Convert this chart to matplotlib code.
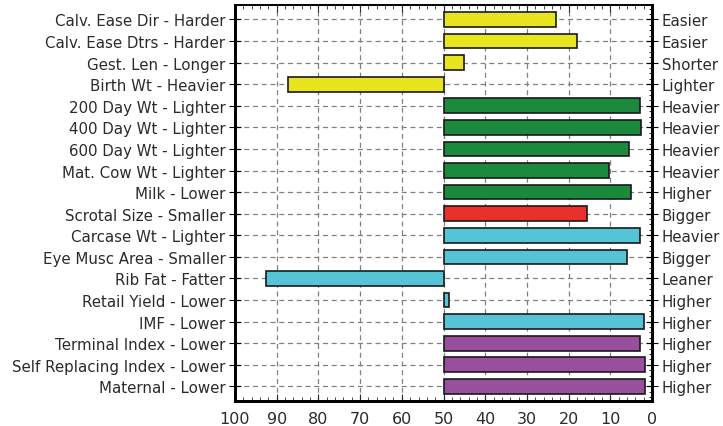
import matplotlib
matplotlib.use('Agg')
import matplotlib.pyplot as plt
from matplotlib.ticker import MultipleLocator, AutoMinorLocator

plt.rcParams['font.family'] = ['DejaVu Sans']

# traits, top to bottom
left_labels = ['Calv. Ease Dir - Harder', 'Calv. Ease Dtrs - Harder', 'Gest. Len - Longer',
               'Birth Wt - Heavier', '200 Day Wt - Lighter', '400 Day Wt - Lighter',
               '600 Day Wt - Lighter', 'Mat. Cow Wt - Lighter', 'Milk - Lower',
               'Scrotal Size - Smaller', 'Carcase Wt - Lighter', 'Eye Musc Area - Smaller',
               'Rib Fat - Fatter', 'Retail Yield - Lower', 'IMF - Lower',
               'Terminal Index - Lower', 'Self Replacing Index - Lower', 'Maternal - Lower']
right_labels = ['Easier', 'Easier', 'Shorter', 'Lighter', 'Heavier', 'Heavier', 'Heavier',
                'Heavier', 'Higher', 'Bigger', 'Heavier', 'Bigger', 'Leaner', 'Higher',
                'Higher', 'Higher', 'Higher', 'Higher']
percentile = [23, 18, 45, 87.4, 2.8, 2.6, 5.6, 10.4, 5.0, 15.5, 2.8, 6.0, 92.6, 48.8, 2.0,
              2.8, 1.6, 1.6]
groups = ['calving'] * 4 + ['growth'] * 5 + ['fert'] + ['carcase'] * 5 + ['index'] * 3

group_colors = {'calving': '#e8e41e', 'growth': '#1c8a3c', 'fert': '#e8302c',
                'carcase': '#55c4d6', 'index': '#9a4f9e'}
mid = 50
txt = '#2b2b2b'

fig = plt.figure(figsize=(7.23, 4.27), dpi=100)
ax = fig.add_axes([0.325, 0.059, 0.577, 0.927])

ypos = list(range(len(left_labels)))
widths = [p - mid for p in percentile]
colors = [group_colors[g] for g in groups]
ax.barh(ypos, widths, left=mid, height=0.68, color=colors, edgecolor='#1a1a1a',
        linewidth=1.2, zorder=3)

ax.set_xlim(100, 0)
ax.set_ylim(17.67, -0.67)
ax.set_yticks(ypos)
ax.set_yticklabels(left_labels, fontsize=10.8, color=txt)
ax.xaxis.set_major_locator(MultipleLocator(10))
ax.xaxis.set_minor_locator(MultipleLocator(2))
ax.tick_params(axis='x', which='both', direction='in', top=True, labelsize=11.5,
               colors=txt, pad=7)
ax.tick_params(axis='x', which='major', length=5)
ax.tick_params(axis='x', which='minor', length=3)
ax.tick_params(axis='y', which='major', direction='inout', length=8, pad=3)
ax.grid(True, linestyle=(0, (4, 3)), color='#808080', linewidth=0.9, zorder=0)

ax2 = ax.twinx()
ax2.set_ylim(ax.get_ylim())
ax2.set_yticks(ypos)
ax2.set_yticklabels(right_labels, fontsize=10.8, color=txt)
ax2.yaxis.set_minor_locator(AutoMinorLocator(4))
ax2.tick_params(axis='y', which='major', direction='inout', length=8, pad=3)
ax2.tick_params(axis='y', which='minor', direction='in', length=2)

for a in (ax, ax2):
    for side in ('left', 'bottom', 'right'):
        a.spines[side].set_linewidth(2)
    a.spines['top'].set_linewidth(1.3)

fig.savefig('out.png', dpi=100)
